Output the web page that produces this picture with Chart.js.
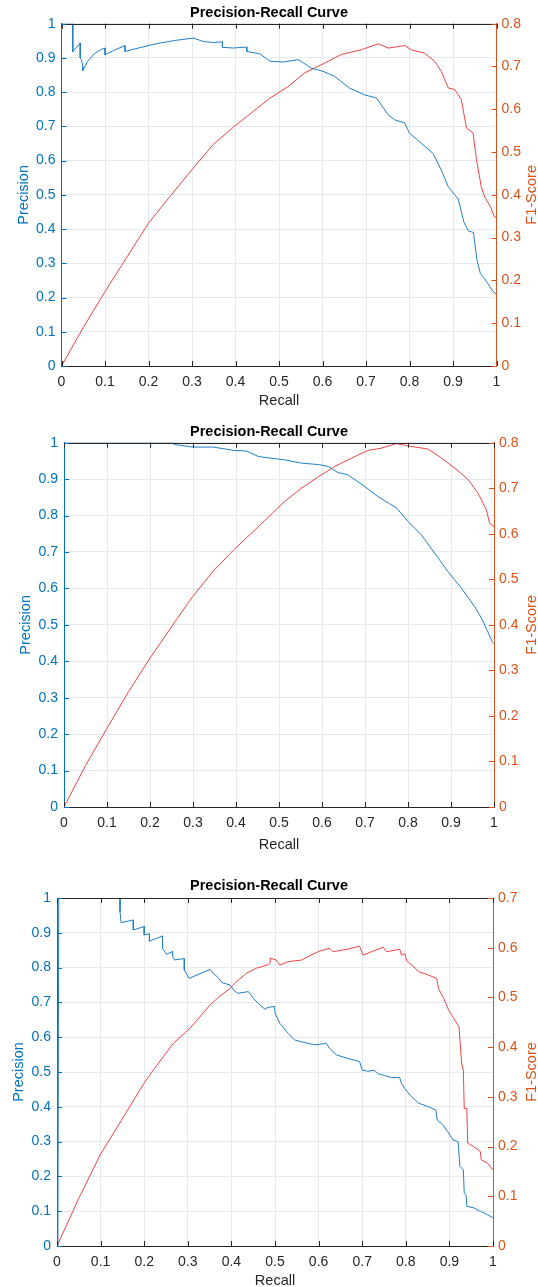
<!DOCTYPE html>
<html>
<head>
<meta charset="utf-8">
<title>Precision-Recall Curves</title>
<script src="https://cdn.jsdelivr.net/npm/chart.js@4.4.1/dist/chart.umd.min.js"></script>
<style>
  html, body { margin: 0; padding: 0; background: #fff; overflow: hidden; }
  canvas { position: absolute; left: 0; }
</style>
</head>
<body>
<canvas id="prCurve1" width="538" height="412" style="top:0px"></canvas>
<canvas id="prCurve2" width="538" height="448" style="top:412px"></canvas>
<canvas id="prCurve3" width="538" height="427" style="top:860px"></canvas>
<script>
// Tick values shared by the three plots
var recallTicks = [0, 0.1, 0.2, 0.3, 0.4, 0.5, 0.6, 0.7, 0.8, 0.9, 1];
var precisionTicks = [0, 0.1, 0.2, 0.3, 0.4, 0.5, 0.6, 0.7, 0.8, 0.9, 1];
var f1TicksTo08 = [0, 0.1, 0.2, 0.3, 0.4, 0.5, 0.6, 0.7, 0.8];
var f1TicksTo07 = [0, 0.1, 0.2, 0.3, 0.4, 0.5, 0.6, 0.7];

// Plot 1
var recallA = [0, 0.026, 0.026, 0.043, 0.043, 0.046, 0.049, 0.049, 0.06, 0.075, 0.09, 0.1, 0.1, 0.12, 0.146, 0.146, 0.18, 0.22, 0.26, 0.303, 0.326, 0.349, 0.37, 0.37, 0.395, 0.426, 0.426, 0.456, 0.472, 0.48, 0.51, 0.544, 0.551, 0.574, 0.601, 0.628, 0.662, 0.697, 0.724, 0.751, 0.766, 0.789, 0.8, 0.827, 0.854, 0.873, 0.889, 0.904, 0.912, 0.925, 0.935, 0.947, 0.95, 0.955, 0.963, 0.971, 0.979, 0.991, 1];
var precisionA = [1, 1, 0.918, 0.944, 0.9, 0.895, 0.875, 0.863, 0.89, 0.912, 0.924, 0.929, 0.909, 0.922, 0.936, 0.919, 0.93, 0.942, 0.951, 0.958, 0.948, 0.945, 0.947, 0.931, 0.929, 0.932, 0.919, 0.912, 0.897, 0.89, 0.888, 0.895, 0.89, 0.87, 0.861, 0.846, 0.812, 0.792, 0.783, 0.734, 0.719, 0.71, 0.68, 0.651, 0.621, 0.573, 0.524, 0.5, 0.488, 0.42, 0.395, 0.39, 0.36, 0.31, 0.27, 0.258, 0.243, 0.219, 0.209];
var f1RecallA = [0, 0.05, 0.1, 0.15, 0.2, 0.25, 0.3, 0.349, 0.395, 0.426, 0.479, 0.521, 0.559, 0.605, 0.643, 0.689, 0.728, 0.751, 0.789, 0.804, 0.835, 0.858, 0.873, 0.889, 0.904, 0.919, 0.931, 0.946, 0.954, 0.965, 0.973, 0.987, 0.994, 1];
var f1ScoreA = [0, 0.09, 0.174, 0.254, 0.334, 0.397, 0.459, 0.518, 0.558, 0.583, 0.626, 0.653, 0.685, 0.708, 0.728, 0.739, 0.753, 0.743, 0.749, 0.739, 0.731, 0.712, 0.689, 0.65, 0.646, 0.623, 0.556, 0.545, 0.482, 0.419, 0.395, 0.37, 0.351, 0.345];

// Plot 2
var recallB = [0, 0.254, 0.256, 0.3, 0.347, 0.394, 0.425, 0.452, 0.479, 0.513, 0.552, 0.591, 0.614, 0.637, 0.66, 0.699, 0.73, 0.773, 0.8, 0.831, 0.862, 0.893, 0.924, 0.955, 0.972, 0.986, 0.996, 1];
var precisionB = [1, 1, 0.995, 0.988, 0.988, 0.979, 0.977, 0.962, 0.958, 0.953, 0.944, 0.94, 0.935, 0.918, 0.912, 0.88, 0.852, 0.821, 0.784, 0.747, 0.697, 0.646, 0.601, 0.55, 0.516, 0.48, 0.453, 0.448];
var f1RecallB = [0, 0.05, 0.1, 0.15, 0.2, 0.262, 0.299, 0.347, 0.394, 0.44, 0.479, 0.513, 0.552, 0.591, 0.63, 0.668, 0.707, 0.738, 0.773, 0.8, 0.847, 0.878, 0.909, 0.94, 0.963, 0.982, 0.99, 1];
var f1ScoreB = [0, 0.091, 0.173, 0.253, 0.327, 0.412, 0.462, 0.518, 0.564, 0.605, 0.64, 0.671, 0.7, 0.725, 0.748, 0.766, 0.783, 0.788, 0.798, 0.793, 0.786, 0.766, 0.744, 0.719, 0.689, 0.653, 0.623, 0.616];

// Plot 3
var recallC = [0.002, 0.004, 0.1445, 0.1445, 0.147, 0.175, 0.175, 0.2, 0.2, 0.212, 0.212, 0.242, 0.242, 0.245, 0.251, 0.265, 0.265, 0.27, 0.292, 0.292, 0.303, 0.351, 0.359, 0.37, 0.378, 0.397, 0.404, 0.414, 0.439, 0.45, 0.462, 0.477, 0.484, 0.499, 0.5, 0.511, 0.53, 0.545, 0.56, 0.591, 0.618, 0.625, 0.641, 0.667, 0.694, 0.7, 0.712, 0.728, 0.736, 0.751, 0.767, 0.786, 0.79, 0.798, 0.81, 0.83, 0.853, 0.869, 0.872, 0.885, 0.896, 0.908, 0.92, 0.924, 0.932, 0.934, 0.938, 0.94, 0.955, 0.971, 0.987, 1];
var precisionC = [0, 1, 1, 0.961, 0.929, 0.937, 0.908, 0.918, 0.894, 0.897, 0.876, 0.891, 0.855, 0.85, 0.838, 0.846, 0.832, 0.822, 0.826, 0.793, 0.769, 0.795, 0.783, 0.771, 0.757, 0.75, 0.737, 0.726, 0.731, 0.712, 0.697, 0.68, 0.686, 0.688, 0.669, 0.64, 0.611, 0.592, 0.587, 0.578, 0.582, 0.568, 0.549, 0.539, 0.53, 0.506, 0.502, 0.505, 0.495, 0.49, 0.484, 0.484, 0.467, 0.452, 0.433, 0.41, 0.4, 0.39, 0.362, 0.348, 0.329, 0.305, 0.3, 0.229, 0.219, 0.152, 0.148, 0.114, 0.11, 0.1, 0.09, 0.081];
var f1RecallC = [0, 0.05, 0.1, 0.15, 0.2, 0.221, 0.255, 0.267, 0.294, 0.305, 0.328, 0.351, 0.374, 0.397, 0.412, 0.435, 0.458, 0.481, 0.488, 0.49, 0.503, 0.511, 0.53, 0.56, 0.583, 0.599, 0.625, 0.633, 0.667, 0.694, 0.702, 0.721, 0.748, 0.756, 0.786, 0.79, 0.798, 0.802, 0.814, 0.829, 0.852, 0.871, 0.875, 0.887, 0.898, 0.91, 0.922, 0.928, 0.932, 0.934, 0.94, 0.942, 0.955, 0.971, 0.973, 0.987, 1];
var f1ScoreC = [0, 0.096, 0.185, 0.256, 0.328, 0.354, 0.394, 0.408, 0.429, 0.438, 0.461, 0.485, 0.503, 0.518, 0.532, 0.549, 0.559, 0.565, 0.568, 0.579, 0.575, 0.565, 0.572, 0.575, 0.585, 0.592, 0.599, 0.592, 0.597, 0.603, 0.585, 0.592, 0.601, 0.592, 0.597, 0.585, 0.588, 0.574, 0.565, 0.552, 0.545, 0.538, 0.518, 0.498, 0.475, 0.458, 0.441, 0.368, 0.353, 0.277, 0.277, 0.207, 0.2, 0.19, 0.173, 0.167, 0.153];

var FONT = '"Liberation Sans", Arial, Helvetica, sans-serif';
var AXIS_BLUE = '#0072BD';
var AXIS_ORANGE = '#D95319';
var AXIS_DARK = '#262626';
var GRID = '#e4e9ee';
var LINE_BLUE = '#1f7fc4';
var LINE_RED = '#ee4444';

function toPoints(xs, ys) {
    return xs.map(function (x, i) { return { x: x, y: ys[i] }; });
}

function useTicks(values) {
    return function (scale) {
        scale.ticks = values.map(function (v) { return { value: v }; });
    };
}

// 0, 0.1, ..., 1 without trailing zeros
function tickText(value) {
    return String(Math.round(value * 10) / 10);
}

// Closes the box on top, adds inward tick marks and the right-hand axis label
var framePlugin = {
    id: 'frame',
    afterDraw: function (chart, args, opts) {
        var ctx = chart.ctx;
        var a = chart.chartArea;
        var sx = chart.scales.x, sy = chart.scales.y, sy1 = chart.scales.y1;
        var len = 5;
        ctx.save();
        ctx.lineWidth = 1;

        ctx.strokeStyle = AXIS_DARK;
        ctx.beginPath();
        ctx.moveTo(a.left, Math.round(a.top) + 0.5);
        ctx.lineTo(a.right, Math.round(a.top) + 0.5);
        sx.ticks.forEach(function (t) {
            var px = Math.round(sx.getPixelForValue(t.value)) + 0.5;
            ctx.moveTo(px, a.top);
            ctx.lineTo(px, a.top + len);
            ctx.moveTo(px, a.bottom);
            ctx.lineTo(px, a.bottom - len);
        });
        ctx.stroke();

        ctx.strokeStyle = AXIS_BLUE;
        ctx.beginPath();
        sy.ticks.forEach(function (t) {
            var py = Math.round(sy.getPixelForValue(t.value)) + 0.5;
            ctx.moveTo(a.left, py);
            ctx.lineTo(a.left + len, py);
        });
        ctx.stroke();

        ctx.strokeStyle = AXIS_ORANGE;
        ctx.beginPath();
        sy1.ticks.forEach(function (t) {
            var py = Math.round(sy1.getPixelForValue(t.value)) + 0.5;
            ctx.moveTo(a.right, py);
            ctx.lineTo(a.right - len, py);
        });
        ctx.stroke();

        ctx.fillStyle = AXIS_ORANGE;
        ctx.font = '14.5px ' + FONT;
        ctx.textAlign = 'center';
        ctx.textBaseline = 'middle';
        ctx.translate(opts.labelX, (a.top + a.bottom) / 2);
        ctx.rotate(-Math.PI / 2);
        ctx.fillText(opts.label, 0, 0);
        ctx.restore();
    }
};

function drawPrCurve(canvasId, box, f1Ticks, recall, precision, f1Recall, f1Score) {
    var ctx = document.getElementById(canvasId).getContext('2d');
    return new Chart(ctx, {
        type: 'scatter',
        data: {
            datasets: [{
                label: 'Precision',
                data: toPoints(recall, precision),
                yAxisID: 'y',
                showLine: true,
                borderColor: LINE_BLUE,
                borderWidth: 1,
                pointRadius: 0,
                tension: 0
            }, {
                label: 'F1-Score',
                data: toPoints(f1Recall, f1Score),
                yAxisID: 'y1',
                showLine: true,
                borderColor: LINE_RED,
                borderWidth: 1,
                pointRadius: 0,
                tension: 0
            }]
        },
        options: {
            responsive: false,
            animation: false,
            events: [],
            layout: { padding: 0 },
            plugins: {
                legend: { display: false },
                tooltip: { enabled: false },
                title: {
                    display: true,
                    text: 'Precision-Recall Curve',
                    color: '#000',
                    font: { family: FONT, size: 14.5, weight: 'bold', lineHeight: 1.2 },
                    padding: { top: box.titleTop, bottom: box.titleBottom }
                },
                frame: { label: 'F1-Score', labelX: 532 }
            },
            scales: {
                x: {
                    type: 'linear',
                    min: 0,
                    max: 1,
                    afterBuildTicks: useTicks(recallTicks),
                    afterFit: function (s) { s.height = box.xHeight; },
                    ticks: { color: AXIS_DARK, font: { family: FONT, size: 14 }, padding: 7.6, maxRotation: 0, callback: tickText },
                    grid: { color: GRID, drawTicks: false },
                    border: { color: AXIS_DARK },
                    title: {
                        display: true,
                        text: 'Recall',
                        color: AXIS_DARK,
                        font: { family: FONT, size: 14.5 },
                        padding: { top: 0, bottom: box.recallPad }
                    }
                },
                y: {
                    type: 'linear',
                    position: 'left',
                    min: 0,
                    max: 1,
                    afterBuildTicks: useTicks(precisionTicks),
                    afterFit: function (s) { s.width = box.left; },
                    ticks: { color: AXIS_BLUE, font: { family: FONT, size: 14 }, padding: 6, callback: tickText },
                    grid: { color: GRID, drawTicks: false },
                    border: { color: AXIS_BLUE },
                    title: {
                        display: true,
                        text: 'Precision',
                        color: AXIS_BLUE,
                        font: { family: FONT, size: 14.5 },
                        padding: { top: box.precisionPad, bottom: 0 }
                    }
                },
                y1: {
                    type: 'linear',
                    position: 'right',
                    min: 0,
                    max: f1Ticks[f1Ticks.length - 1],
                    afterBuildTicks: useTicks(f1Ticks),
                    afterFit: function (s) { s.width = 538 - box.right; },
                    ticks: { color: AXIS_ORANGE, font: { family: FONT, size: 14 }, padding: 5, callback: tickText },
                    grid: { display: false, drawTicks: false },
                    border: { color: AXIS_ORANGE }
                }
            }
        },
        plugins: [framePlugin]
    });
}

drawPrCurve('prCurve1',
    { left: 61.5, right: 496.5, titleTop: 4.3, titleBottom: 2, xHeight: 46, recallPad: 2, precisionPad: 15 },
    f1TicksTo08, recallA, precisionA, f1RecallA, f1ScoreA);

drawPrCurve('prCurve2',
    { left: 64, right: 494, titleTop: 11, titleBottom: 2.3, xHeight: 53, recallPad: 6, precisionPad: 17 },
    f1TicksTo08, recallB, precisionB, f1RecallB, f1ScoreB);

drawPrCurve('prCurve3',
    { left: 57, right: 493, titleTop: 17, titleBottom: 3.6, xHeight: 41, recallPad: -3, precisionPad: 10 },
    f1TicksTo07, recallC, precisionC, f1RecallC, f1ScoreC);
</script>
</body>
</html>
